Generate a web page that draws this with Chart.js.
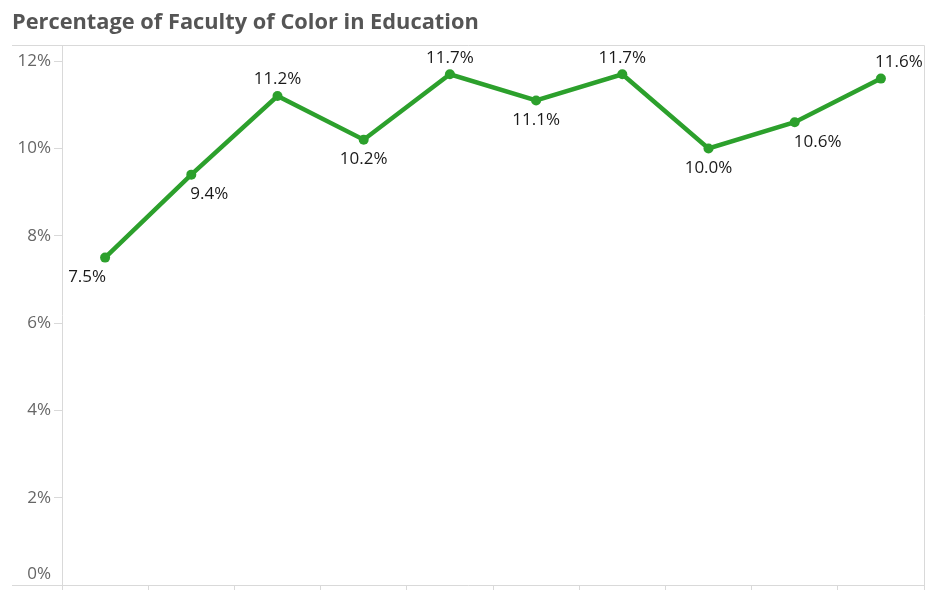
<!DOCTYPE html>
<html>
<head>
<meta charset="utf-8">
<script src="https://cdn.jsdelivr.net/npm/chart.js@4"></script>
<style>
  html, body { margin: 0; padding: 0; background: #fff; }
  #wrap { width: 941px; height: 590px; }
</style>
</head>
<body>
<div id="wrap"><canvas id="chart" width="941" height="590"></canvas></div>
<script>
const title = 'Percentage of Faculty of Color in Education';
const categories = ['1', '2', '3', '4', '5', '6', '7', '8', '9', '10'];
const values = [7.5, 9.4, 11.2, 10.2, 11.7, 11.1, 11.7, 10.0, 10.6, 11.6];
const yTicks = [0, 2, 4, 6, 8, 10, 12];
// where each data label sits relative to its point
const labelPos = ['below-left', 'below-right', 'above', 'below', 'above', 'below', 'above', 'below', 'below-right', 'above-right'];

const GREEN = '#2ca02c';
const FRAME = '#d9d9d9';
const FONT = '"Open Sans", sans-serif';

// title, frame, y tick labels and point labels
const decor = {
  id: 'decor',
  afterDraw(chart) {
    const { ctx, chartArea: a, scales: { y } } = chart;
    ctx.save();

    ctx.fillStyle = '#555';
    ctx.font = 'bold 21.8px ' + FONT;
    ctx.textAlign = 'left';
    ctx.textBaseline = 'alphabetic';
    ctx.fillText(title, 12, 29);

    ctx.strokeStyle = FRAME;
    ctx.lineWidth = 1;
    ctx.beginPath();
    ctx.moveTo(12, a.top + 0.5); ctx.lineTo(a.right + 0.5, a.top + 0.5);
    ctx.lineTo(a.right + 0.5, a.bottom + 0.5);
    ctx.moveTo(12, a.bottom + 0.5); ctx.lineTo(a.right + 0.5, a.bottom + 0.5);
    ctx.stroke();

    ctx.fillStyle = '#666';
    ctx.font = '17px ' + FONT;
    ctx.textAlign = 'right';
    ctx.textBaseline = 'middle';
    yTicks.forEach(v => {
      let py = y.getPixelForValue(v);
      if (v === 0) py -= 11;
      ctx.fillText(v + '%', 51, py);
    });

    const meta = chart.getDatasetMeta(0);
    ctx.fillStyle = '#1a1a1a';
    ctx.font = '17px ' + FONT;
    meta.data.forEach((pt, i) => {
      const pos = labelPos[i];
      const txt = values[i].toFixed(1) + '%';
      let tx = pt.x, ty;
      ctx.textAlign = 'center';
      if (pos.startsWith('above')) { ctx.textBaseline = 'bottom'; ty = pt.y - 8; }
      else { ctx.textBaseline = 'top'; ty = pt.y + 11; }
      if (pos.endsWith('-left')) { ctx.textAlign = 'right'; tx = pt.x + 1; }
      if (pos.endsWith('-right')) { ctx.textAlign = 'left'; tx = pt.x - 1; }
      if (pos === 'above-right') { ctx.textAlign = 'center'; tx = pt.x + 18; }
      if (pos === 'below-right' && i === 8) { ctx.textAlign = 'center'; tx = pt.x + 23; }
      ctx.fillText(txt, tx, ty);
    });
    ctx.restore();
  }
};

new Chart(document.getElementById('chart'), {
  type: 'line',
  data: {
    labels: categories,
    datasets: [{
      data: values,
      borderColor: GREEN,
      backgroundColor: GREEN,
      borderWidth: 4.5,
      pointRadius: 5,
      pointHoverRadius: 5,
      pointBackgroundColor: GREEN,
      pointBorderWidth: 0,
      tension: 0
    }]
  },
  options: {
    responsive: false,
    animation: false,
    events: [],
    layout: { padding: { left: 12, top: 45, right: 17, bottom: 0 } },
    plugins: { legend: { display: false }, tooltip: { enabled: false }, title: { display: false } },
    scales: {
      x: {
        offset: true,
        grid: { offset: true, drawOnChartArea: false, color: FRAME, tickLength: 6 },
        border: { display: false },
        ticks: { display: false },
        afterFit: s => { s.height = 3; }
      },
      y: {
        min: 0,
        max: 12.37,
        ticks: { display: false, stepSize: 2 },
        afterBuildTicks: s => { s.ticks = yTicks.filter(v => v > 0).map(v => ({ value: v })); },
        grid: { drawOnChartArea: false, color: FRAME, tickLength: 8 },
        border: { display: true, color: FRAME },
        afterFit: s => { s.width = 50; }
      }
    }
  },
  plugins: [decor]
});
</script>
</body>
</html>
